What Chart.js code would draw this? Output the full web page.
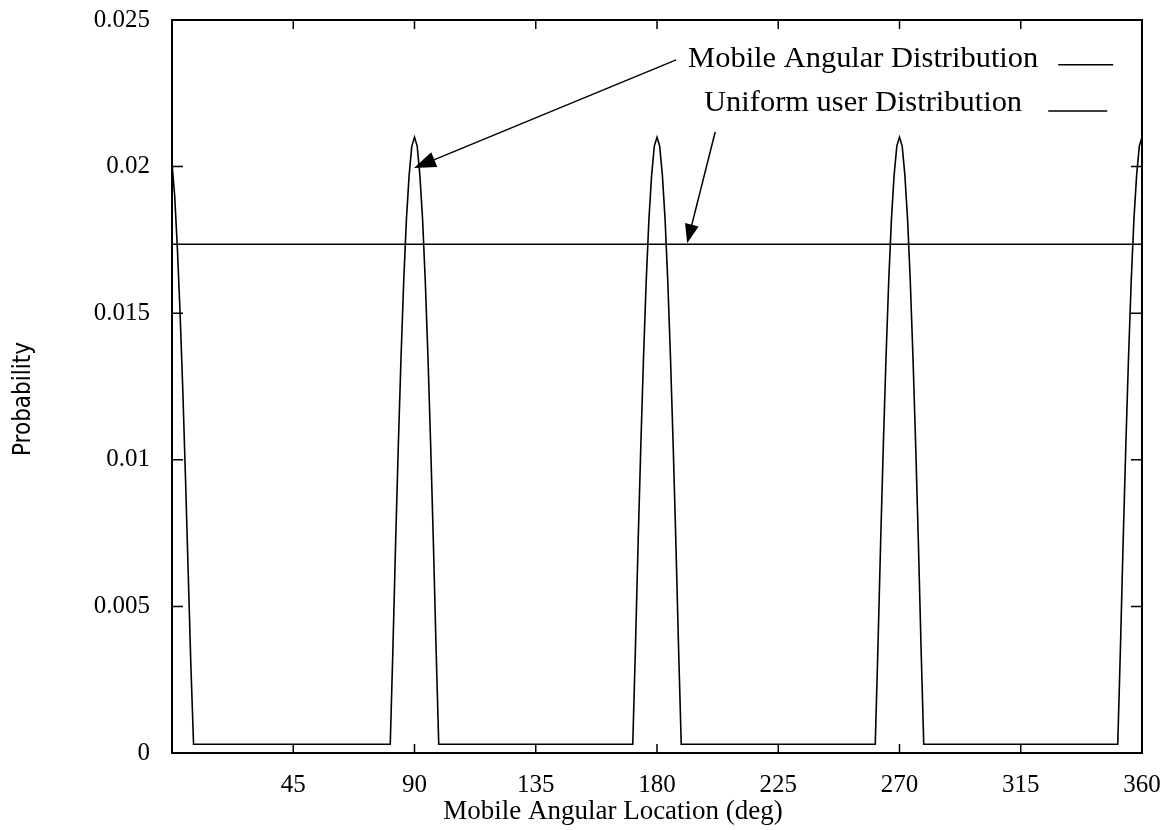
<!DOCTYPE html>
<html lang="en">
<head>
  <meta charset="UTF-8" />
  <title>Mobile Angular Distribution</title>
  <script src="https://cdn.jsdelivr.net/npm/chart.js"></script>
  <style>
    body { margin: 0; background: #fff; }
    canvas { display: block; }
  </style>
</head>
<body>
  <canvas id="chart" width="1170" height="830"></canvas>

  <script>
    // values: angle (deg) -> probability
    const mobileAngle = [
      0, 1, 2, 3, 4, 5, 6, 7, 8,
      81, 82, 83, 84, 85, 86, 87, 88, 89, 90, 91, 92, 93, 94, 95, 96, 97, 98, 99,
      171, 172, 173, 174, 175, 176, 177, 178, 179, 180, 181, 182, 183, 184, 185, 186, 187, 188, 189,
      261, 262, 263, 264, 265, 266, 267, 268, 269, 270, 271, 272, 273, 274, 275, 276, 277, 278, 279,
      351, 352, 353, 354, 355, 356, 357, 358, 359, 360
    ];
    const mobileProb = [
      0.0201, 0.0190, 0.0172, 0.0150, 0.0124, 0.0094, 0.0062, 0.0030, 0.0003,
      0.0003, 0.0036, 0.0072, 0.0105, 0.0135, 0.0161, 0.0182, 0.0197, 0.0207, 0.0210,
      0.0207, 0.0197, 0.0182, 0.0161, 0.0135, 0.0105, 0.0072, 0.0036, 0.0003,
      0.0003, 0.0036, 0.0072, 0.0105, 0.0135, 0.0161, 0.0182, 0.0197, 0.0207, 0.0210,
      0.0207, 0.0197, 0.0182, 0.0161, 0.0135, 0.0105, 0.0072, 0.0036, 0.0003,
      0.0003, 0.0036, 0.0072, 0.0105, 0.0135, 0.0161, 0.0182, 0.0197, 0.0207, 0.0210,
      0.0207, 0.0197, 0.0182, 0.0161, 0.0135, 0.0105, 0.0072, 0.0036, 0.0003,
      0.0003, 0.0036, 0.0072, 0.0105, 0.0135, 0.0161, 0.0182, 0.0197, 0.0207, 0.0210
    ];
    const uniformAngle = [0, 360];
    const uniformProb = [0.01735, 0.01735];

    const xTicks = [45, 90, 135, 180, 225, 270, 315, 360];
    const yTicks = [0, 0.005, 0.01, 0.015, 0.02, 0.025];
    const seriesLabels = ['Mobile Angular Distribution', 'Uniform user Distribution'];
    const xTitle = 'Mobile Angular Location (deg)';
    const yTitle = 'Probability';

    const serif = '"Liberation Serif", "Times New Roman", serif';

    const toPoints = (xs, ys) => xs.map((v, i) => ({ x: v, y: ys[i] }));

    function arrow(ctx, x0, y0, x1, y1, len, half) {
      const ang = Math.atan2(y1 - y0, x1 - x0);
      ctx.beginPath();
      ctx.moveTo(x0, y0);
      ctx.lineTo(x1 - Math.cos(ang) * len * 0.8, y1 - Math.sin(ang) * len * 0.8);
      ctx.stroke();
      ctx.beginPath();
      ctx.moveTo(x1, y1);
      ctx.lineTo(x1 - Math.cos(ang) * len - Math.sin(ang) * half, y1 - Math.sin(ang) * len + Math.cos(ang) * half);
      ctx.lineTo(x1 - Math.cos(ang) * len + Math.sin(ang) * half, y1 - Math.sin(ang) * len - Math.cos(ang) * half);
      ctx.closePath();
      ctx.fill();
    }

    // right-aligned text, slightly widened like the scanned key
    function keyText(ctx, text, x, y) {
      ctx.save();
      ctx.translate(x, y);
      ctx.scale(1.05, 1);
      ctx.fillText(text, 0, 0);
      ctx.restore();
    }

    // frame, inward ticks on all four sides, axis titles, key and arrows
    const decorations = {
      id: 'decorations',
      afterDatasetsDraw(chart) {
        const { ctx, chartArea: a, scales: { x, y } } = chart;
        ctx.save();
        ctx.strokeStyle = '#000';
        ctx.fillStyle = '#000';
        ctx.lineWidth = 2;
        ctx.strokeRect(a.left, a.top, a.right - a.left, a.bottom - a.top);

        ctx.lineWidth = 1.5;
        ctx.beginPath();
        x.ticks.forEach(t => {
          const px = x.getPixelForValue(t.value);
          ctx.moveTo(px, a.bottom); ctx.lineTo(px, a.bottom - 9);
          ctx.moveTo(px, a.top); ctx.lineTo(px, a.top + 9);
        });
        y.ticks.forEach(t => {
          const py = y.getPixelForValue(t.value);
          ctx.moveTo(a.left, py); ctx.lineTo(a.left + 11, py);
          ctx.moveTo(a.right, py); ctx.lineTo(a.right - 11, py);
        });
        ctx.stroke();

        // axis titles (the scan has them off-centre)
        ctx.textAlign = 'center';
        ctx.textBaseline = 'middle';
        ctx.font = '27px ' + serif;
        ctx.fillText(xTitle, 613, 812);
        ctx.save();
        ctx.translate(24, 399);
        ctx.rotate(-Math.PI / 2);
        ctx.font = '24px "Liberation Sans Narrow", "DejaVu Sans Condensed", sans-serif';
        ctx.fillText(yTitle, 0, 0);
        ctx.restore();

        // key
        ctx.font = '29px ' + serif;
        ctx.textAlign = 'right';
        keyText(ctx, seriesLabels[0], x.getPixelForValue(321.5), y.getPixelForValue(0.02367));
        keyText(ctx, seriesLabels[1], x.getPixelForValue(315.5), y.getPixelForValue(0.02217));
        ctx.beginPath();
        ctx.moveTo(x.getPixelForValue(328.9), y.getPixelForValue(0.02347));
        ctx.lineTo(x.getPixelForValue(349.3), y.getPixelForValue(0.02347));
        ctx.moveTo(x.getPixelForValue(325.2), y.getPixelForValue(0.0219));
        ctx.lineTo(x.getPixelForValue(347.1), y.getPixelForValue(0.0219));
        ctx.stroke();

        // arrows pointing at the two curves
        arrow(ctx, x.getPixelForValue(187.1), y.getPixelForValue(0.02364),
              x.getPixelForValue(89.8), y.getPixelForValue(0.01995), 22, 8);
        arrow(ctx, x.getPixelForValue(201.6), y.getPixelForValue(0.02118),
              x.getPixelForValue(191.2), y.getPixelForValue(0.01739), 19, 7);
        ctx.restore();
      }
    };

    new Chart(document.getElementById('chart'), {
      type: 'line',
      data: {
        datasets: [
          {
            label: seriesLabels[0],
            data: toPoints(mobileAngle, mobileProb),
            borderColor: '#000',
            borderWidth: 1.6,
            pointRadius: 0,
            tension: 0,
            fill: false
          },
          {
            label: seriesLabels[1],
            data: toPoints(uniformAngle, uniformProb),
            borderColor: '#000',
            borderWidth: 1.6,
            pointRadius: 0,
            tension: 0,
            fill: false
          }
        ]
      },
      options: {
        responsive: false,
        animation: false,
        events: [],
        layout: { padding: { top: 20, right: 28, left: 0, bottom: 0 } },
        plugins: {
          legend: { display: false },
          tooltip: { enabled: false }
        },
        scales: {
          x: {
            type: 'linear',
            min: 0,
            max: 360,
            afterBuildTicks: axis => { axis.ticks = xTicks.map(v => ({ value: v })); },
            afterFit: axis => {
              axis.height = 77;
              axis.paddingLeft = 0;
              axis.paddingRight = 0;
            },
            grid: { display: false, drawTicks: false },
            border: { display: false },
            ticks: {
              autoSkip: false,
              maxRotation: 0,
              padding: 17,
              color: '#000',
              font: { family: serif, size: 25 }
            }
          },
          y: {
            min: 0,
            max: 0.025,
            afterBuildTicks: axis => { axis.ticks = yTicks.map(v => ({ value: v })); },
            afterFit: axis => {
              axis.width = 172;
              axis.paddingTop = 0;
              axis.paddingBottom = 0;
            },
            grid: { display: false, drawTicks: false },
            border: { display: false },
            ticks: {
              autoSkip: false,
              padding: 22,
              color: '#000',
              font: { family: serif, size: 25 },
              callback: v => String(v)
            }
          }
        }
      },
      plugins: [decorations]
    });
  </script>
</body>
</html>
